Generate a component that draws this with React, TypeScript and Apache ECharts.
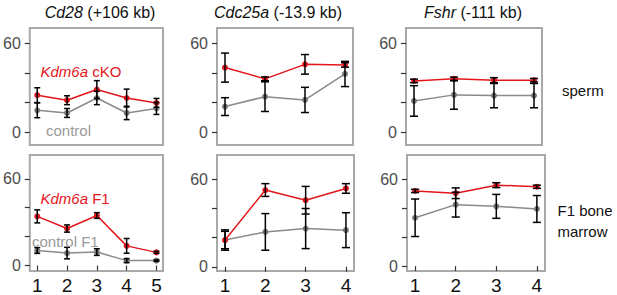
import React, { useEffect, useRef } from "react";
import * as echarts from "echarts";

const FONT = "'Liberation Sans', Arial, Helvetica, sans-serif";
const RED = "#e3161c";
const GREY = "#8a8a8a";

const xFive = [1, 2, 3, 4, 5];
const xFour = [1, 2, 3, 4];
const yTicks = [0, 20, 40, 60];
const yLabels = [0, 60];

// sperm row
const cd28CkoMean = [25, 21.6, 28.8, 23.1, 19.8];
const cd28CkoErr = [5, 3, 6, 6, 3];
const cd28CtrlMean = [14.8, 13, 23.1, 13, 16];
const cd28CtrlErr = [5, 3, 4.5, 4.5, 4];
const cdc25aCkoMean = [43.6, 36.0, 45.8, 45.4];
const cdc25aCkoErr = [9.8, 1.3, 6.6, 1.5];
const cdc25aCtrlMean = [17.3, 24.0, 21.8, 39.3];
const cdc25aCtrlErr = [6, 10, 8.5, 8.5];
const fshrCkoMean = [34.6, 36.0, 35.1, 35.1];
const fshrCkoErr = [1.2, 1.2, 1.7, 1.2];
const fshrCtrlMean = [21.1, 25.2, 24.7, 24.7];
const fshrCtrlErr = [10.3, 9.7, 8.2, 8.2];

// F1 bone marrow row
const cd28F1Mean = [34.0, 25.6, 34.6, 13.6, 9.1];
const cd28F1Err = [4.5, 2.5, 2, 5.1, 0.7];
const cd28CtrlF1Mean = [10.4, 8.6, 9.3, 3.4, 3.4];
const cd28CtrlF1Err = [2, 4, 2.3, 1.4, 0.5];
const cdc25aF1Mean = [18.4, 52.8, 45.8, 53.9];
const cdc25aF1Err = [7, 4.4, 9.5, 3.3];
const cdc25aCtrlF1Mean = [18.4, 24.0, 26.3, 25.2];
const cdc25aCtrlF1Err = [6, 12.6, 13.8, 12];
const fshrF1Mean = [52.1, 50.5, 56.1, 55.0];
const fshrF1Err = [1.1, 3.7, 1.7, 1.1];
const fshrCtrlF1Mean = [33.5, 42.6, 41.4, 39.6];
const fshrCtrlF1Err = [13, 8.6, 8.3, 9.3];

const titles = [
  { gene: "Cd28", rest: " (+106 kb)" },
  { gene: "Cdc25a", rest: " (-13.9 kb)" },
  { gene: "Fshr", rest: " (-111 kb)" },
];

type Panel = {
  grid: { left: number; top: number; width: number; height: number };
  x: number[];
  xMin: number;
  xMax: number;
  yMin: number;
  yMax: number;
  bottom: boolean;
  redMean: number[];
  redErr: number[];
  greyMean: number[];
  greyErr: number[];
};

const panels: Panel[] = [
  { grid: { left: 28, top: 28, width: 135, height: 117 }, x: xFive, xMin: 0.75, xMax: 5.22, yMin: -8.6, yMax: 70.3, bottom: false,
    redMean: cd28CkoMean, redErr: cd28CkoErr, greyMean: cd28CtrlMean, greyErr: cd28CtrlErr },
  { grid: { left: 217, top: 28, width: 136, height: 117 }, x: xFour, xMin: 0.8, xMax: 4.2, yMin: -8.6, yMax: 70.3, bottom: false,
    redMean: cdc25aCkoMean, redErr: cdc25aCkoErr, greyMean: cdc25aCtrlMean, greyErr: cdc25aCtrlErr },
  { grid: { left: 406, top: 28, width: 136, height: 117 }, x: xFour, xMin: 0.8, xMax: 4.2, yMin: -8.6, yMax: 70.3, bottom: false,
    redMean: fshrCkoMean, redErr: fshrCkoErr, greyMean: fshrCtrlMean, greyErr: fshrCtrlErr },
  { grid: { left: 26, top: 155, width: 137, height: 118 }, x: xFive, xMin: 0.75, xMax: 5.22, yMin: -3.8, yMax: 76.5, bottom: true,
    redMean: cd28F1Mean, redErr: cd28F1Err, greyMean: cd28CtrlF1Mean, greyErr: cd28CtrlF1Err },
  { grid: { left: 217, top: 155, width: 137, height: 118 }, x: xFour, xMin: 0.8, xMax: 4.2, yMin: -2.9, yMax: 76.9, bottom: true,
    redMean: cdc25aF1Mean, redErr: cdc25aF1Err, greyMean: cdc25aCtrlF1Mean, greyErr: cdc25aCtrlF1Err },
  { grid: { left: 407, top: 155, width: 138, height: 118 }, x: xFour, xMin: 0.8, xMax: 4.2, yMin: -3.4, yMax: 77.0, bottom: true,
    redMean: fshrF1Mean, redErr: fshrF1Err, greyMean: fshrCtrlF1Mean, greyErr: fshrCtrlF1Err },
];

function errorBarRender(params: any, api: any) {
  const x = api.value(0);
  const lo = api.value(1);
  const hi = api.value(2);
  const pLo = api.coord([x, lo]);
  const pHi = api.coord([x, hi]);
  const hw = api.size([0.1, 0])[0];
  const style = { stroke: "#000", lineWidth: 1.5, fill: "none" };
  return {
    type: "group",
    children: [
      { type: "line", shape: { x1: pLo[0], y1: pLo[1], x2: pHi[0], y2: pHi[1] }, style },
      { type: "line", shape: { x1: pLo[0] - hw, y1: pLo[1], x2: pLo[0] + hw, y2: pLo[1] }, style },
      { type: "line", shape: { x1: pHi[0] - hw, y1: pHi[1], x2: pHi[0] + hw, y2: pHi[1] }, style },
    ],
  };
}

export default function App() {
  const ref = useRef<HTMLDivElement>(null);
  useEffect(() => {
    document.body.style.margin = "0";
    if (!ref.current) return;
    const chart = echarts.init(ref.current, undefined, { renderer: "svg" });

    const grids = panels.map((p) => ({
      ...p.grid,
      show: true,
      borderColor: "#a9a9a9",
      borderWidth: 2,
      backgroundColor: "#fff",
      containLabel: false,
    }));

    const xAxes = panels.map((p, i) => ({
      type: "value",
      gridIndex: i,
      min: p.xMin,
      max: p.xMax,
      splitLine: { show: false },
      axisLine: { show: false },
      axisTick: { show: p.bottom, length: 5, lineStyle: { color: "#333", width: 1.2 }, customValues: p.x },
      axisLabel: { show: p.bottom, customValues: p.x, color: "#111", fontSize: 19, fontFamily: FONT, margin: 5 },
    }));

    const yAxes = panels.map((p, i) => ({
      type: "value",
      gridIndex: i,
      min: p.yMin,
      max: p.yMax,
      splitLine: { show: false },
      axisLine: { show: false },
      axisTick: { show: true, length: 5, lineStyle: { color: "#333", width: 1.2 }, customValues: yTicks },
      axisLabel: { customValues: yLabels, color: "#4d4d4d", fontSize: 16, fontFamily: FONT, margin: 9 },
    }));

    const series: any[] = [];
    panels.forEach((p, i) => {
      series.push({
        type: "line",
        xAxisIndex: i,
        yAxisIndex: i,
        data: p.x.map((x, k) => [x, p.greyMean[k]]),
        symbol: "circle",
        symbolSize: 6,
        lineStyle: { color: GREY, width: 1.5 },
        itemStyle: { color: "#7a7a7a" },
        z: 2,
      });
      series.push({
        type: "line",
        xAxisIndex: i,
        yAxisIndex: i,
        data: p.x.map((x, k) => [x, p.redMean[k]]),
        symbol: "circle",
        symbolSize: 6,
        lineStyle: { color: RED, width: 1.5 },
        itemStyle: { color: RED },
        z: 3,
      });
      series.push({
        type: "custom",
        xAxisIndex: i,
        yAxisIndex: i,
        renderItem: errorBarRender,
        encode: { x: 0, y: [1, 2] },
        data: p.x.map((x, k) => [x, p.greyMean[k] - p.greyErr[k], p.greyMean[k] + p.greyErr[k]]),
        z: 4,
        clip: false,
      });
      series.push({
        type: "custom",
        xAxisIndex: i,
        yAxisIndex: i,
        renderItem: errorBarRender,
        encode: { x: 0, y: [1, 2] },
        data: p.x.map((x, k) => [x, p.redMean[k] - p.redErr[k], p.redMean[k] + p.redErr[k]]),
        z: 4,
        clip: false,
      });
    });

    const titleCenters = [100, 278, 473];
    const graphic: any[] = titles.map((t, i) => ({
      type: "text",
      x: titleCenters[i],
      y: 12,
      style: {
        text: `{i|${t.gene}}{n|${t.rest}}`,
        textAlign: "center",
        textVerticalAlign: "middle",
        rich: {
          i: { fontStyle: "italic", fontSize: 16, fontFamily: FONT, fill: "#111" },
          n: { fontSize: 16, fontFamily: FONT, fill: "#111" },
        },
      },
    }));

    const ann = (x: number, y: number, text: string, rich: any) => ({
      type: "text",
      x,
      y,
      z: 10,
      style: { text, textAlign: "left", textVerticalAlign: "middle", rich },
    });
    const redRich = {
      i: { fontStyle: "italic", fontSize: 15, fontFamily: FONT, fill: RED },
      n: { fontSize: 15, fontFamily: FONT, fill: RED },
    };
    const greyRich = { g: { fontSize: 15, fontFamily: FONT, fill: "#9a9a9a" } };
    const blackRich = { b: { fontSize: 15, fontFamily: FONT, fill: "#111" } };
    graphic.push(ann(40.5, 71, "{i|Kdm6a}{n| cKO}", redRich));
    graphic.push(ann(46, 130, "{g|control}", greyRich));
    graphic.push(ann(40.5, 198, "{i|Kdm6a}{n| F1}", redRich));
    graphic.push(ann(32, 241.5, "{g|control F1}", greyRich));
    graphic.push(ann(562, 90.5, "{b|sperm}", blackRich));
    graphic.push(ann(557.5, 210, "{b|F1 bone}", blackRich));
    graphic.push(ann(557.5, 231, "{b|marrow}", blackRich));

    chart.setOption({
      animation: false,
      backgroundColor: "#fff",
      grid: grids,
      xAxis: xAxes,
      yAxis: yAxes,
      series,
      graphic,
    });
    return () => chart.dispose();
  }, []);
  return <div ref={ref} style={{ width: 617, height: 295 }} />;
}
